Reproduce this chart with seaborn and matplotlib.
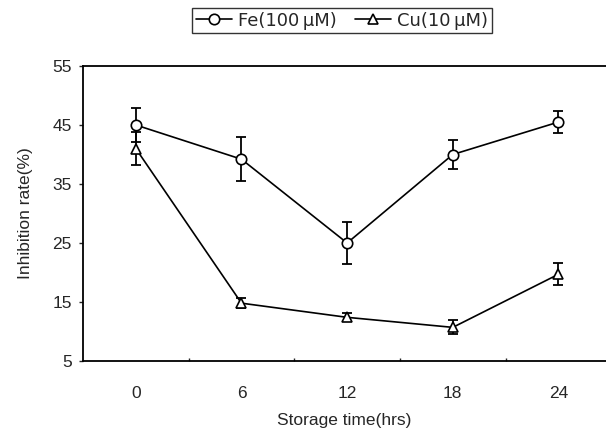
import numpy as np
import pandas as pd
import matplotlib
matplotlib.use('Agg')
import matplotlib.pyplot as plt
import seaborn as sns

# values
hours = [0, 6, 12, 18, 24]
fe_rate = [45.0, 39.2, 25.0, 40.0, 45.5]
fe_err = [2.8, 3.7, 3.6, 2.4, 1.8]
cu_rate = [41.0, 14.8, 12.4, 10.7, 19.7]
cu_err = [2.8, 0.8, 0.7, 1.2, 1.9]
series_names = ['Fe(100\u2009\u03bcM)', 'Cu(10\u2009\u03bcM)']
y_ticks = [5, 15, 25, 35, 45, 55]

sns.set_style('white')
plt.rcParams['font.family'] = ['Liberation Sans', 'DejaVu Sans']

df = pd.DataFrame({
    'hours': hours * 2,
    'rate': fe_rate + cu_rate,
    'series': [series_names[0]] * len(hours) + [series_names[1]] * len(hours),
})

fig = plt.figure(figsize=(6.06, 4.30), dpi=100)
ax = fig.add_axes([83 / 606, 1 - 361 / 430, 1 - 83 / 606, (361 - 66) / 430])

# error bars first so markers sit on top
for y, e in [(fe_rate, fe_err), (cu_rate, cu_err)]:
    ax.errorbar(hours, y, yerr=e, fmt='none', ecolor='black',
                elinewidth=1.3, capsize=3.5, capthick=1.3, zorder=2)

sns.lineplot(data=df, x='hours', y='rate', hue='series', style='series',
             palette=['black', 'black'], markers=['o', '^'], dashes=False,
             markersize=7.5, markerfacecolor='white', markeredgecolor='black',
             markeredgewidth=1.2, linewidth=1.2, ax=ax, zorder=3)

ax.set_xlim(-3, 26.7)
ax.set_ylim(5, 55)
ax.set_xticks(hours)
ax.set_yticks(y_ticks)
ax.set_xticks([3, 9, 15, 21], minor=True)
ax.tick_params(axis='x', which='major', length=0, pad=18, labelsize=12.5)
ax.tick_params(axis='x', which='minor', direction='in', length=2, width=1, bottom=True)
ax.tick_params(axis='y', which='major', direction='out', length=3, width=1, left=True, pad=5, labelsize=12.5)

for side in ['left', 'bottom', 'top']:
    ax.spines[side].set_color('black')
    ax.spines[side].set_linewidth(1.3)
ax.spines['right'].set_visible(False)

ax.set_xlabel('Storage time(hrs)', fontsize=12.5, labelpad=9)
ax.set_ylabel('Inhibition rate(%)', fontsize=12.5, labelpad=14)

handles, labels = ax.get_legend_handles_labels()
ax.get_legend().remove()
leg = fig.legend(handles, labels, loc='upper center', ncol=2,
                 bbox_to_anchor=(342 / 606, 1 - 8 / 430), borderaxespad=0,
                 frameon=True, prop={'family': ['DejaVu Sans'], 'size': 13},
                 handlelength=2.0, handletextpad=0.35,
                 columnspacing=1.0, borderpad=0.2, fancybox=False)
leg.get_frame().set_edgecolor('black')
leg.get_frame().set_linewidth(1.0)

fig.savefig('out.png', dpi=100)
